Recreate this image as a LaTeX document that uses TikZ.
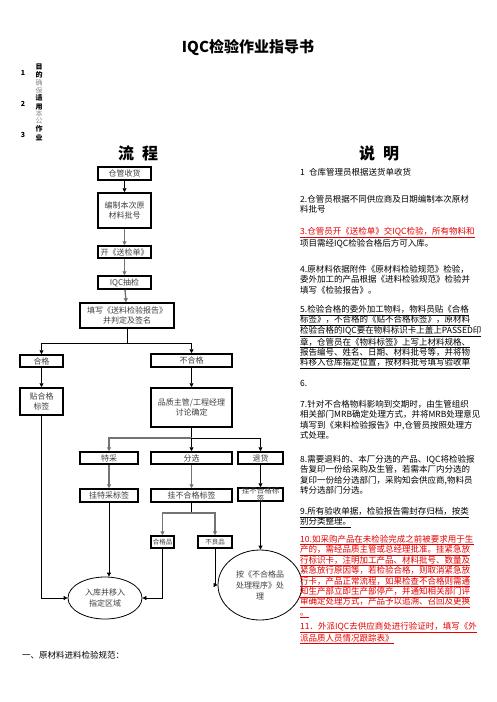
\documentclass[tikz,border=0pt]{standalone}
\usepackage{fontspec}
\setmainfont{Noto Sans CJK SC}
\usepackage{xcolor}
\usetikzlibrary{arrows.meta,shapes.geometric}

\definecolor{notered}{RGB}{230,0,0}
\newcommand{\ulx}[1]{\underline{#1}}

\tikzset{
  box/.style={draw,line width=1.5pt,inner sep=0pt,align=center,
    font=\fontsize{8}{10}\selectfont,text=black!75},
  oval/.style={ellipse,draw,line width=0.8pt,inner sep=0pt,align=center,
    font=\fontsize{8}{11}\selectfont,text=black!75},
  flow/.style={line width=0.8pt,-{Triangle[length=4pt,width=4pt]}},
  gflow/.style={flow,line width=1.4pt,draw=black!55},
  note/.style={anchor=north west,inner sep=0pt,align=left,
    font=\fontsize{8.5}{10.4}\selectfont},
}

\begin{document}
\begin{tikzpicture}[x=1pt,y=-1pt]
        \fill[white] (0,0) rectangle (496,702);
        \useasboundingbox (0,0) rectangle (496,702);

        % Title and column headings
        \node[font=\bfseries\fontsize{15}{15}\selectfont] (title) at (248,48) {IQC检验作业指导书};
        \node[font=\bfseries\fontsize{16}{16}\selectfont] (hflow) at (138,153) {流\hspace{0.5em}程};
        \node[font=\bfseries\fontsize{16}{16}\selectfont] (hnote) at (379,153) {说\hspace{0.5em}明};

        % Numbered items (squeezed column)
        \node[font=\bfseries\fontsize{7}{7}\selectfont] (no1) at (23,73) {1};
        \node[font=\bfseries\fontsize{7}{7}\selectfont] (no2) at (23,104) {2};
        \node[font=\bfseries\fontsize{7}{7}\selectfont] (no3) at (23,135) {3};
        \foreach \ch/\y [count=\i] in {目/67,的/75,适/98,用/107,作/129,业/138}
          \node[font=\bfseries\fontsize{7}{7}\selectfont,inner sep=0pt] (hd\i) at (39,\y) {\ch};
        \foreach \ch/\y [count=\i] in {确/83,保/91,本/114,公/121}
          \node[font=\fontsize{7}{7}\selectfont,text=black!45,inner sep=0pt] (gr\i) at (39,\y) {\ch};

        % Main flow
        \node[box,minimum width=53pt,minimum height=13pt] (recv) at (124.5,173.5) {仓管收货};
        \node[box,minimum width=53pt,minimum height=35pt] (batch) at (124.5,210.5) {编制本次原\\材料批号};
        \node[box,minimum width=53pt,minimum height=12pt] (form) at (124.5,252) {开《送检单》};
        \node[box,minimum width=53pt,minimum height=13pt] (iqc) at (124.5,282.5) {IQC抽检};
        \node[box,minimum width=94pt,minimum height=25pt] (report) at (127,315.5) {填写《送料检验报告》\\并判定及签名};

        % Pass / fail branches
        \node[box,minimum width=43pt,minimum height=12pt] (pass) at (41.5,361) {合格};
        \node[box,minimum width=43pt,minimum height=27pt] (passtag) at (41.5,401.5) {贴合格\\标签};
        \node[box,minimum width=81pt,minimum height=13pt] (fail) at (191.5,360.5) {不合格};
        \node[box,minimum width=81pt,minimum height=39pt] (mrb) at (191.5,407.5) {品质主管/工程经理\\讨论确定};

        % Disposition
        \node[box,minimum width=58pt,minimum height=12pt] (waive) at (109,458) {特采};
        \node[box,minimum width=81pt,minimum height=12pt] (sort) at (191.5,458) {分选};
        \node[box,minimum width=45pt,minimum height=12pt] (ret) at (260.5,458) {退货};
        \node[box,minimum width=58pt,minimum height=13pt] (waivetag) at (109,495.5) {挂特采标签};
        \node[box,minimum width=81pt,minimum height=13pt] (sorttag) at (191.5,495.5) {挂不合格标签};
        \node[box,minimum width=45pt,minimum height=13pt] (rettag) at (260.5,494.5) {};
        \node[font=\fontsize{7.5}{8}\selectfont,text=black!75,align=center,inner sep=0pt] (rettext) at (rettag) {挂不合格标\\签};
        \node[box,minimum width=23pt,minimum height=12pt,font=\fontsize{6.5}{8}\selectfont] (good) at (162.5,542) {合格品};
        \node[box,minimum width=34pt,minimum height=12pt,font=\fontsize{6.5}{8}\selectfont] (bad) at (215,542) {不良品};

        % End states
        \node[oval,minimum width=74pt,minimum height=42pt] (stock) at (105,598) {入库并移入\\指定区域};
        \node[oval,minimum width=84pt,minimum height=70pt] (proc) at (260,585) {按《不合格品\\处理程序》处\\理};

        % Connectors
        \coordinate (split1) at (127,343);
        \coordinate (split2) at (191.5,438);
        \coordinate (split3) at (191.5,513);
        \draw[flow] (recv) -- (batch);
        \draw[gflow] (batch) -- (form);
        \draw[gflow] (form) -- (iqc);
        \draw[gflow] (iqc) -- (report);
        \draw[line width=0.8pt] (report) -- (split1);
        \draw[flow] (split1) -| (pass);
        \draw[flow] (split1) -| (fail);
        \draw[flow] (pass) -- (passtag);
        \draw[flow] (fail) -- (mrb);
        \draw[line width=0.8pt] (mrb) -- (split2);
        \draw[gflow] (split2) -| (waive);
        \draw[flow] (split2) -- (sort);
        \draw[flow] (split2) -| (ret);
        \draw[gflow] (waive) -- (waivetag);
        \draw[gflow] (sort) -- (sorttag);
        \draw[flow] (ret) -- (rettag);
        \draw[line width=0.8pt] (sorttag) -- (split3);
        \draw[gflow] (split3) -| (good);
        \draw[gflow] (split3) -| (bad);
        \draw[flow] (passtag) |- (stock);
        \draw[flow] (waivetag) -- (waivetag |- stock.north);
        \draw[flow] (good) |- (stock);
        \draw[flow] (bad) |- (proc);
        \draw[flow] (rettag) -- (rettag |- proc.north);

        % Notes (right column)
        \node[note] (p1) at (300,168) {1\hspace{0.5em}仓库管理员根据送货单收货};
        \node[note] (p2) at (300,195) {2.仓管员根据不同供应商及日期编制本次原材\\料批号};
        \node[note] (p3) at (300,227) {\textcolor{notered}{\ulx{3.仓管员开《送检单》交IQC检验，所有物料和}}\\项目需经IQC检验合格后方可入库。};
        \node[note] (p4) at (300,265) {4.原材料依据附件《原材料检验规范》检验，\\委外加工的产品根据《进料检验规范》检验并\\填写《检验报告》。};
        \node[note] (p5) at (300,305) {\ulx{5.检验合格的委外加工物料，物料员贴《合格}\\\ulx{标签》，不合格的《贴不合格标签》，原材料}\\\ulx{检验合格的IQC要在物料标识卡上盖上PASSED印}\\\ulx{章，仓管员在《物料标签》上写上材料规格、}\\\ulx{报告编号、姓名、日期、材料批号等，并将物}\\\ulx{料移入仓库指定位置，按材料批号填写验收单}};
        \node[note] (p6) at (300,380) {6.};
        \node[note] (p7) at (300,400) {7.针对不合格物料影响到交期时，由生管组织\\相关部门MRB确定处理方式，并将MRB处理意见\\填写到《来料检验报告》中,仓管员按照处理方\\式处理。};
        \node[note] (p8) at (300,455) {8.需要退料的、本厂分选的产品、IQC将检验报\\告复印一份给采购及生管，若需本厂内分选的\\复印一份给分选部门，采购知会供应商,物料员\\转分选部门分选。};
        \node[note] (p9) at (300,507) {\ulx{9.所有验收单据，检验报告需封存归档，按类}\\\ulx{别分类整理。}};
        \node[note,text=notered] (p10) at (300,535) {\ulx{10.如采购产品在未检验完成之前被要求用于生}\\\ulx{产的，需经品质主管或总经理批准。挂紧急放}\\\ulx{行标识卡，注明加工产品、材料批号、数量及}\\\ulx{紧急放行原因等，若检验合格，则取消紧急放}\\\ulx{行卡，产品正常流程，如果检查不合格则需通}\\\ulx{知生产部立即生产部停产，并通知相关部门评}\\\ulx{审确定处理方式，产品予以追溯、召回及更换}\\\ulx{。}};
        \node[note,text=notered] (p11) at (300,622) {\ulx{11．外派IQC去供应商处进行验证时，填写《外}\\\ulx{派品质人员情况跟踪表》}};

        % Section heading below
        \node[anchor=west,inner sep=0pt,font=\fontsize{8.5}{10}\selectfont] (sec1) at (22,655) {一、原材料进料检验规范：};
\end{tikzpicture}
\end{document}
